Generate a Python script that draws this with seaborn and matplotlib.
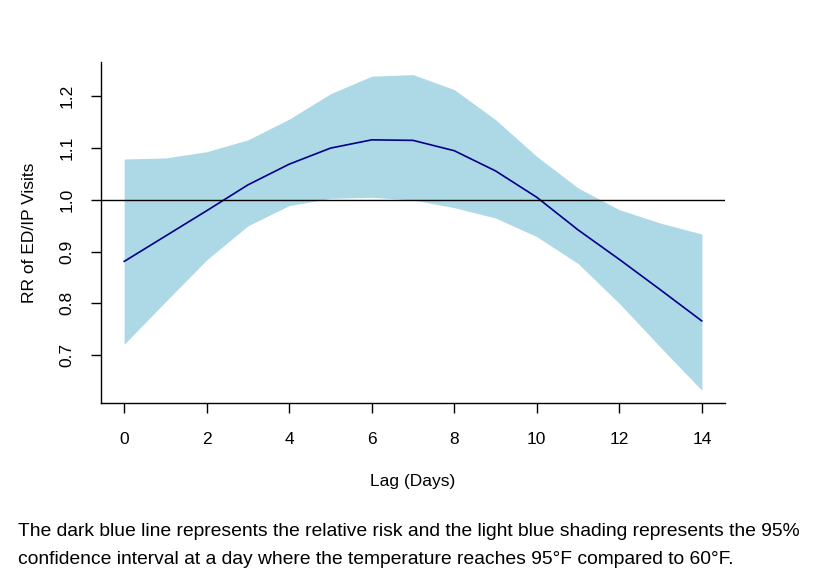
import pandas as pd
import matplotlib
matplotlib.use("Agg")
import matplotlib.pyplot as plt
import seaborn as sns

# lag days and relative risk estimates
lag_days = [0, 1, 2, 3, 4, 5, 6, 7, 8, 9, 10, 11, 12, 13, 14]
rr = [0.881, 0.930, 0.979, 1.029, 1.069, 1.100, 1.116, 1.115, 1.095,
      1.056, 1.005, 0.942, 0.885, 0.826, 0.766]
rr_upper = [1.079, 1.081, 1.093, 1.116, 1.156, 1.205, 1.239, 1.242, 1.213,
            1.155, 1.084, 1.023, 0.981, 0.955, 0.934]
rr_lower = [0.721, 0.803, 0.884, 0.950, 0.989, 1.003, 1.005, 1.000, 0.985,
            0.965, 0.929, 0.877, 0.800, 0.715, 0.632]
x_ticks = [0, 2, 4, 6, 8, 10, 12, 14]
y_ticks = [0.7, 0.8, 0.9, 1.0, 1.1, 1.2]

caption_1 = "The dark blue line represents the relative risk and the light blue shading represents the 95%"
caption_2 = "confidence interval at a day where the temperature reaches 95°F compared to 60°F."

datos = pd.DataFrame({"lag": lag_days, "rr": rr, "lo": rr_lower, "hi": rr_upper})

sns.set_style("ticks")
plt.rcParams["font.family"] = ["Liberation Sans", "DejaVu Sans"]
plt.rcParams["text.color"] = "black"
plt.rcParams["axes.labelcolor"] = "black"
plt.rcParams["xtick.color"] = "black"
plt.rcParams["ytick.color"] = "black"

fig = plt.figure(figsize=(8.16, 5.77), dpi=100)
ax = fig.add_axes([101 / 816, 1 - 403 / 577, 624 / 816, 341 / 577])

ax.fill_between(datos["lag"], datos["lo"], datos["hi"], color="#ADD8E6", linewidth=0)
sns.lineplot(data=datos, x="lag", y="rr", color="#00008B", linewidth=1.2, ax=ax)
ax.axhline(1.0, color="black", linewidth=1.0)

ax.set_xlim(-0.56, 14.56)
ax.set_ylim(0.6076, 1.2664)
ax.set_xticks(x_ticks)
ax.set_yticks(y_ticks)
ax.set_xticklabels([str(t) for t in x_ticks], fontsize=12.5)
ax.set_yticklabels([f"{t:.1f}" for t in y_ticks], fontsize=12.5, rotation=90, va="center")
ax.tick_params(direction="out", length=7, width=1, pad=14)
ax.tick_params(axis="y", pad=12)

for side in ["top", "right"]:
    ax.spines[side].set_visible(False)
for side in ["left", "bottom"]:
    ax.spines[side].set_color("black")
    ax.spines[side].set_linewidth(1.0)

ax.set_xlabel("Lag (Days)", fontsize=12.5, labelpad=19)
ax.set_ylabel("RR of ED/IP Visits", fontsize=12.5, labelpad=16)

# caption, sized so the first line spans about 779 px like the reference
t1 = fig.text(18 / 816, 1 - 532 / 577, caption_1, fontsize=13, va="center", ha="left")
t2 = fig.text(18 / 816, 1 - 560 / 577, caption_2, fontsize=13, va="center", ha="left")
fig.canvas.draw()
w = t1.get_window_extent().width
size = 13 * 779 / w
t1.set_fontsize(size)
t2.set_fontsize(size)

fig.savefig("out.png", dpi=100)
